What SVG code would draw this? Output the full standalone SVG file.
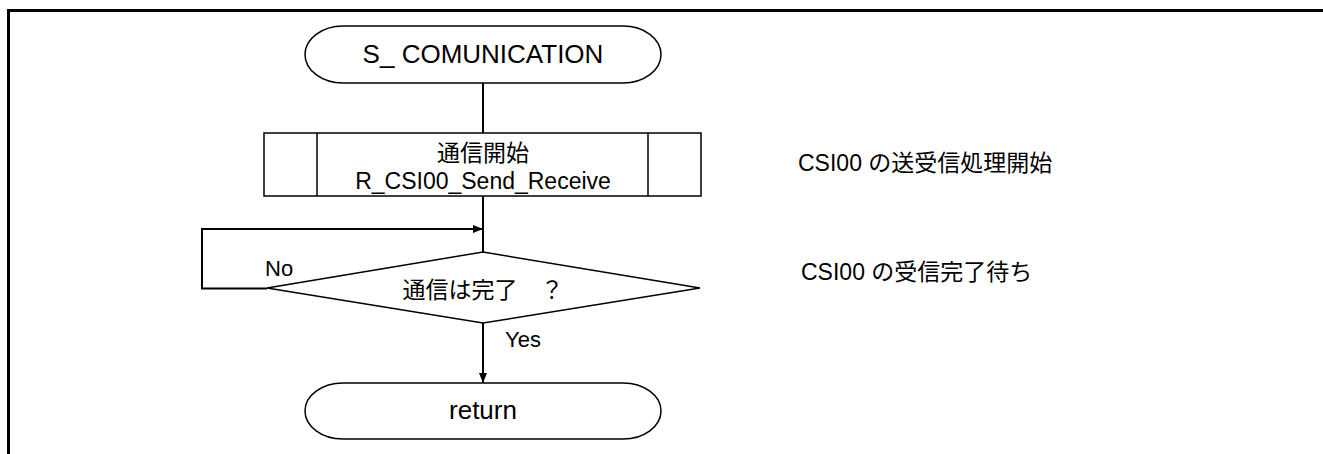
<svg xmlns="http://www.w3.org/2000/svg" width="1323" height="454" viewBox="0 0 1323 454">
  <defs>
    <marker id="arrow" markerWidth="10" markerHeight="8" refX="10" refY="4" orient="auto" markerUnits="userSpaceOnUse">
      <path d="M0,0 L10,4 L0,8 Z" fill="#000"/>
    </marker>
  </defs>
  <style>
    .shape { fill: #fff; stroke: #000; stroke-width: 1.5; }
    .wire { fill: none; stroke: #000; stroke-width: 2; }
    .frame { fill: none; stroke: #000; stroke-width: 3; }
    text { font-family: "Liberation Sans", "Noto Sans CJK JP", sans-serif; fill: #000; }
    .c { text-anchor: middle; }
  </style>

  <rect width="1323" height="454" fill="#fff"/>

  <!-- page frame: top and left edges -->
  <g id="frame">
    <line class="frame" x1="8.5" y1="10.5" x2="1323" y2="10.5"/>
    <line class="frame" x1="8.5" y1="9" x2="8.5" y2="454"/>
  </g>

  <!-- connectors -->
  <g id="connectors">
    <line class="wire" x1="483" y1="83" x2="483" y2="133"/>
    <line class="wire" x1="483" y1="196" x2="483" y2="252"/>
    <polyline class="wire" points="267,288.5 202,288.5 202,229 483,229" marker-end="url(#arrow)"/>
    <line class="wire" x1="483" y1="323" x2="483" y2="383" marker-end="url(#arrow)"/>
  </g>

  <g id="start">
    <rect class="shape" x="305" y="26" width="356" height="57" rx="38" ry="28.5"/>
    <text class="c" x="483" y="63" font-size="26">S_ COMUNICATION</text>
  </g>

  <g id="send-receive">
    <rect class="shape" x="264" y="133" width="437" height="63"/>
    <line class="shape" x1="317" y1="133" x2="317" y2="196"/>
    <line class="shape" x1="648" y1="133" x2="648" y2="196"/>
    <text class="c" x="483" y="161" font-size="23">通信開始</text>
    <text class="c" x="483" y="189" font-size="23">R_CSI00_Send_Receive</text>
  </g>

  <g id="done-check">
    <polygon class="shape" points="483,252 700,288 483,323 267,288"/>
    <text class="c" x="483" y="298" font-size="23">通信は完了　？</text>
    <text x="265" y="276" font-size="22">No</text>
    <text x="505" y="347" font-size="22">Yes</text>
  </g>

  <g id="return">
    <rect class="shape" x="305" y="383" width="356" height="56" rx="38" ry="28"/>
    <text class="c" x="483" y="419" font-size="26">return</text>
  </g>

  <!-- side notes -->
  <g id="notes">
    <text x="798" y="171" font-size="23">CSI00 の送受信処理開始</text>
    <text x="801" y="280" font-size="23">CSI00 の受信完了待ち</text>
  </g>
</svg>
